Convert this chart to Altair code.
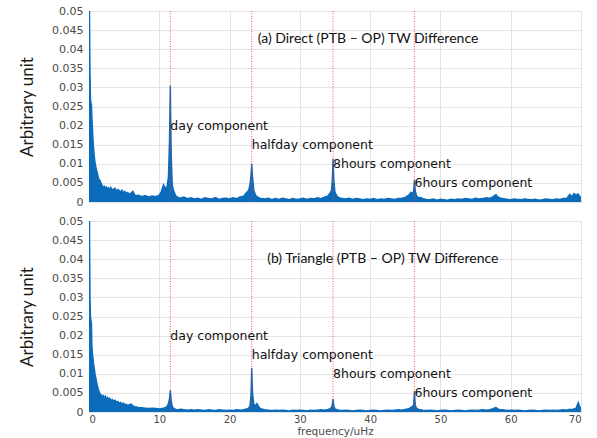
import altair as alt
import pandas as pd

# ---------------- data ----------------
freq = [
    0, 0.07, 0.14, 0.21, 0.28, 0.35, 0.42, 0.5, 0.58, 0.66,
    0.75, 0.85, 0.95, 1.05, 1.15, 1.25, 1.35, 1.45, 1.6, 1.75,
    1.9, 2.05, 2.2, 2.35, 2.5, 2.65, 2.8, 2.95, 3.1, 3.3,
    3.5, 3.7, 3.9, 4.1, 4.3, 4.5, 4.7, 4.9, 5.1, 5.3,
    5.5, 5.75, 6.0, 6.25, 6.5, 6.75, 7.0, 7.5, 8.0, 8.5,
    9.0, 9.5, 10.0, 10.3, 10.6, 10.9, 11.1, 11.3, 11.45, 11.57,
    11.7, 11.85, 12.0, 12.2, 12.4, 12.7, 13.0, 13.5, 14.0, 14.5,
    15.0, 15.5, 16.0, 16.5, 17.0, 17.5, 18.0, 18.5, 19.0, 19.5,
    20.0, 20.5, 21.0, 21.5, 22.0, 22.4, 22.7, 22.9, 23.05, 23.15,
    23.27, 23.45, 23.7, 23.9, 24.2, 24.5, 25.0, 25.5, 26.0, 26.5,
    27.0, 27.5, 28.0, 28.5, 29.0, 29.5, 30.0, 30.5, 31.0, 31.5,
    32.0, 32.5, 33.0, 33.5, 34.0, 34.3, 34.5, 34.62, 34.72, 34.84,
    35.0, 35.3, 35.6, 36.0, 36.5, 37.0, 37.5, 38.0, 38.5, 39.0,
    39.5, 40.0, 40.5, 41.0, 41.5, 42.0, 42.5, 43.0, 43.5, 44.0,
    44.5, 45.0, 45.5, 45.8, 46.05, 46.2, 46.3, 46.42, 46.6, 46.9,
    47.2, 47.5, 48.0, 48.5, 49.0, 49.5, 50.0, 50.5, 51.0, 51.5,
    52.0, 52.5, 53.0, 53.5, 54.0, 54.5, 55.0, 55.5, 56.0, 56.5,
    57.0, 57.4, 57.7, 57.9, 58.1, 58.4, 58.8, 59.2, 59.6, 60.0,
    60.5, 61.0, 61.5, 62.0, 62.5, 63.0, 63.5, 64.0, 64.5, 65.0,
    65.5, 66.0, 66.5, 67.0, 67.5, 68.0, 68.4, 68.7, 69.0, 69.3,
    69.6, 69.8, 70.0,
]

# (a) Direct (PTB - OP) TW Difference
amp_a = [
    0.080, 0.050, 0.034, 0.027, 0.026, 0.0255, 0.022, 0.019, 0.016, 0.014,
    0.012, 0.0105, 0.0095, 0.0085, 0.0078, 0.007, 0.0062, 0.0058, 0.0055, 0.0048,
    0.0042, 0.0038, 0.0041, 0.0035, 0.0039, 0.0034, 0.0037, 0.0033, 0.0038, 0.0032,
    0.0034, 0.0036, 0.0028, 0.0033, 0.0030, 0.0026, 0.0031, 0.0024, 0.0028, 0.0022,
    0.0025, 0.0020, 0.0024, 0.0028, 0.0019, 0.0016, 0.0018, 0.0014, 0.0017, 0.0013,
    0.0016, 0.0014, 0.0018, 0.0028, 0.0045, 0.0035, 0.0040, 0.0065, 0.016, 0.0305,
    0.012, 0.0045, 0.0032, 0.0022, 0.0015, 0.0012, 0.0010, 0.0013, 0.0009, 0.0011,
    0.0008, 0.0010, 0.0007, 0.0011, 0.0009, 0.0008, 0.0012, 0.0007, 0.0009, 0.0010,
    0.0008, 0.0011, 0.0009, 0.0013, 0.0015, 0.0024, 0.0030, 0.0045, 0.0070, 0.0100,
    0.0065, 0.0030, 0.0018, 0.0014, 0.0011, 0.0009, 0.0008, 0.0010, 0.0006, 0.0009,
    0.0007, 0.0010, 0.0008, 0.0006, 0.0009, 0.0007, 0.0008, 0.0010, 0.0007, 0.0009,
    0.0008, 0.0011, 0.0009, 0.0013, 0.0016, 0.0024, 0.0030, 0.0060, 0.0113, 0.0055,
    0.0025, 0.0015, 0.0011, 0.0009, 0.0008, 0.0010, 0.0007, 0.0009, 0.0008, 0.0006,
    0.0008, 0.0007, 0.0009, 0.0006, 0.0008, 0.0007, 0.0009, 0.0008, 0.0007, 0.0009,
    0.0010, 0.0012, 0.0018, 0.0025, 0.0022, 0.0030, 0.0058, 0.0030, 0.0016, 0.0011,
    0.0012, 0.0009, 0.0007, 0.0006, 0.0008, 0.0005, 0.0007, 0.0006, 0.0005, 0.0007,
    0.0006, 0.0008, 0.0007, 0.0009, 0.0008, 0.0007, 0.0010, 0.0008, 0.0009, 0.0011,
    0.0010, 0.0013, 0.0017, 0.0019, 0.0015, 0.0011, 0.0009, 0.0008, 0.0007, 0.0006,
    0.0008, 0.0007, 0.0006, 0.0008, 0.0007, 0.0006, 0.0007, 0.0005, 0.0006, 0.0008,
    0.0007, 0.0006, 0.0008, 0.0007, 0.0009, 0.0010, 0.0020, 0.0014, 0.0022, 0.0018,
    0.0021, 0.0015, 0.0012,
]

# (b) Triangle (PTB - OP) TW Difference
amp_b = [
    0.080, 0.050, 0.030, 0.025, 0.024, 0.023, 0.017, 0.015, 0.014, 0.0125,
    0.0115, 0.010, 0.0092, 0.0082, 0.0072, 0.0064, 0.0058, 0.0052, 0.0047, 0.0044,
    0.0040, 0.0043, 0.0036, 0.0041, 0.0033, 0.0038, 0.0032, 0.0036, 0.0030, 0.0033,
    0.0029, 0.0031, 0.0026, 0.0028, 0.0023, 0.0025, 0.0021, 0.0023, 0.0019, 0.0020,
    0.0017, 0.0019, 0.0021, 0.0016, 0.0014, 0.0013, 0.0012, 0.0011, 0.0010, 0.0009,
    0.0010, 0.0009, 0.0008, 0.0009, 0.0010, 0.0012, 0.0014, 0.0022, 0.0035, 0.0057,
    0.0030, 0.0014, 0.0010, 0.0008, 0.0007, 0.0006, 0.0007, 0.0006, 0.0005, 0.0006,
    0.0005, 0.0006, 0.0005, 0.0004, 0.0006, 0.0005, 0.0004, 0.0006, 0.0005, 0.0004,
    0.0005, 0.0004, 0.0006, 0.0005, 0.0006, 0.0008, 0.0010, 0.0016, 0.0045, 0.0115,
    0.0050, 0.0020, 0.0017, 0.0022, 0.0012, 0.0008, 0.0006, 0.0005, 0.0004, 0.0005,
    0.0004, 0.0005, 0.0004, 0.0003, 0.0005, 0.0004, 0.0005, 0.0004, 0.0003, 0.0005,
    0.0004, 0.0005, 0.0006, 0.0005, 0.0007, 0.0009, 0.0012, 0.0020, 0.0034, 0.0015,
    0.0008, 0.0006, 0.0005, 0.0004, 0.0005, 0.0004, 0.0003, 0.0004, 0.0005, 0.0004,
    0.0003, 0.0004, 0.0005, 0.0004, 0.0003, 0.0004, 0.0005, 0.0004, 0.0005, 0.0006,
    0.0005, 0.0007, 0.0009, 0.0012, 0.0015, 0.0020, 0.0055, 0.0018, 0.0010, 0.0007,
    0.0006, 0.0005, 0.0004, 0.0005, 0.0004, 0.0003, 0.0004, 0.0005, 0.0004, 0.0003,
    0.0004, 0.0005, 0.0004, 0.0003, 0.0004, 0.0005, 0.0004, 0.0005, 0.0006, 0.0005,
    0.0006, 0.0008, 0.0011, 0.0012, 0.0009, 0.0007, 0.0006, 0.0005, 0.0004, 0.0005,
    0.0004, 0.0005, 0.0004, 0.0003, 0.0004, 0.0005, 0.0004, 0.0003, 0.0004, 0.0005,
    0.0004, 0.0005, 0.0004, 0.0005, 0.0006, 0.0005, 0.0007, 0.0006, 0.0008, 0.0010,
    0.0025, 0.0015, 0.0008,
]

component_freq = [11.57, 23.15, 34.72, 46.30]
component_names = ["day component", "halfday component", "8hours component", "6hours component"]
component_label_level = [0.020, 0.015, 0.010, 0.005]

panel_titles = ["(a) Direct (PTB \u2013 OP) TW Difference",
                "(b) Triangle (PTB \u2013 OP) TW Difference"]
panel_title_f = [39.7, 41.8]
panel_title_level = [0.0426, 0.0400]

x_ticks = [0, 10, 20, 30, 40, 50, 60, 70]
y_ticks = [0, 0.005, 0.01, 0.015, 0.02, 0.025, 0.03, 0.035, 0.04, 0.045, 0.05]

BLUE = "#0b6cbc"
W, H = 492, 191


def panel(amp, title, tf, tl, bottom):
    df = pd.DataFrame({"f": freq, "a": amp})
    xs = alt.Scale(domain=[0, 70], nice=False, zero=False)
    ys = alt.Scale(domain=[0, 0.05], nice=False)
    xaxis = alt.Axis(
        values=x_ticks, grid=True, gridColor="#e3e3e3", gridWidth=1,
        ticks=False, domain=False, labels=bottom, labelOverlap=False,
        labelFont="DejaVu Sans", labelFontSize=10, labelColor="#4a4a4a",
        labelPadding=2,
        title="frequency/uHz" if bottom else None,
        titleFont="DejaVu Sans", titleFontSize=10.5, titleFontWeight="normal",
        titleColor="#4a4a4a", titlePadding=2,
    )
    yaxis = alt.Axis(
        values=y_ticks, format="~g", grid=True, gridColor="#e3e3e3", gridWidth=1,
        ticks=False, domain=False, labelOverlap=False,
        labelFont="DejaVu Sans", labelFontSize=11, labelColor="#4a4a4a",
        labelPadding=6,
        title="Arbitrary unit", titleFont="Lato", titleFontSize=17,
        titleFontWeight="normal", titleColor="#1a1a1a", titlePadding=15,
    )
    X = lambda field: alt.X(field, scale=xs, axis=xaxis)
    Y = lambda field: alt.Y(field, scale=ys, axis=yaxis)

    area = alt.Chart(df).mark_area(color=BLUE, clip=True, interpolate="linear").encode(
        x=X("f:Q"), y=Y("a:Q")
    )
    line = alt.Chart(df).mark_line(color=BLUE, strokeWidth=1.4, clip=True).encode(
        x=X("f:Q"), y=Y("a:Q")
    )
    comp = pd.DataFrame({"f": component_freq, "lvl": component_label_level,
                         "t": component_names})
    rules = alt.Chart(comp).mark_rule(color="#ff2a2a", strokeDash=[1, 1.5],
                                      strokeWidth=1, opacity=0.8).encode(x=X("f:Q"))
    texts = alt.Chart(comp).mark_text(
        align="left", baseline="middle", font="DejaVu Sans", fontSize=12.5,
        color="#111111",
    ).encode(x=X("f:Q"), y=Y("lvl:Q"), text="t:N")
    ttl = alt.Chart(pd.DataFrame({"f": [tf], "lvl": [tl], "t": [title]})).mark_text(
        align="center", baseline="middle", font="Lato", fontSize=14, color="#111111"
    ).encode(x=X("f:Q"), y=Y("lvl:Q"), text="t:N")
    return alt.layer(area, line, rules, texts, ttl).properties(width=W, height=H)


top = panel(amp_a, panel_titles[0], panel_title_f[0], panel_title_level[0], False)
bot = panel(amp_b, panel_titles[1], panel_title_f[1], panel_title_level[1], True)

chart = alt.vconcat(top, bot, spacing=6).properties(
    padding={"left": 18, "top": 4, "right": 5, "bottom": 0}
).configure_view(stroke="#9a9a9a", strokeWidth=1)

chart.save("out.html", embed_options={"renderer": "svg", "actions": False})
